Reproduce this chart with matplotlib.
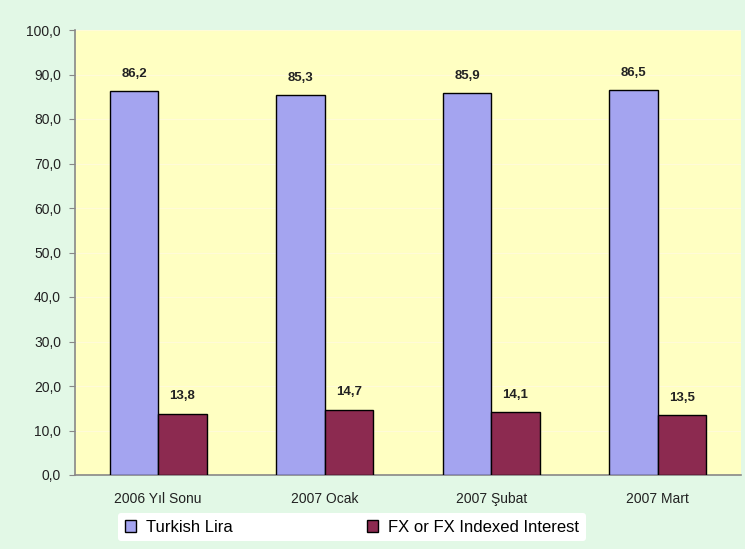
import matplotlib
matplotlib.use("Agg")
import matplotlib.pyplot as plt
import numpy as np

plt.rcParams["font.family"] = ["Liberation Sans", "DejaVu Sans"]

categories = ["2006 Yıl Sonu", "2007 Ocak", "2007 Şubat", "2007 Mart"]
turkish_lira = [86.2, 85.3, 85.9, 86.5]
fx_indexed = [13.8, 14.7, 14.1, 13.5]
series_names = ["Turkish Lira", "FX or FX Indexed Interest"]
yticks = [0, 10, 20, 30, 40, 50, 60, 70, 80, 90, 100]


def fmt(v):
    return f"{v:.1f}".replace(".", ",")


fig = plt.figure(figsize=(7.45, 5.49), dpi=100)
fig.patch.set_facecolor("#e2f8e6")
ax = fig.add_axes([75 / 745, 1 - 475 / 549, 666 / 745, 445 / 549])
ax.set_facecolor("#ffffc2")

x = np.arange(len(categories))
w = 0.29
b1 = ax.bar(x - w / 2, turkish_lira, w, color="#a4a4f0", edgecolor="black",
            linewidth=1.0, label=series_names[0], zorder=3)
b2 = ax.bar(x + w / 2, fx_indexed, w, color="#8c2a50", edgecolor="black",
            linewidth=1.0, label=series_names[1], zorder=3)

for bars, vals in ((b1, turkish_lira), (b2, fx_indexed)):
    for r, v in zip(bars, vals):
        ax.text(r.get_x() + r.get_width() / 2, v + 2.5, fmt(v), ha="center",
                va="bottom", fontsize=9.5, fontweight="bold", color="#222222")

ax.set_xlim(-0.5, len(categories) - 0.5)
ax.set_ylim(0, 100)
ax.set_yticks(yticks)
ax.set_yticklabels([fmt(v) for v in yticks], fontsize=10, color="#222222")
ax.set_xticks(x)
ax.set_xticklabels(categories, fontsize=10, color="#222222")
ax.tick_params(axis="x", length=0, pad=12)
ax.tick_params(axis="y", length=4, color="#888888", pad=6)
ax.grid(axis="y", color="#fffbd8", linewidth=0.8, zorder=0)

for side in ("top", "right"):
    ax.spines[side].set_visible(False)
for side in ("left", "bottom"):
    ax.spines[side].set_color("#888888")
    ax.spines[side].set_linewidth(1.2)

leg = fig.legend(handles=[b1, b2], loc="center", bbox_to_anchor=(352 / 745, 1 - 527 / 549),
                 ncol=2, frameon=True, fontsize=12, handlelength=0.7, handleheight=0.7,
                 columnspacing=8, handletextpad=0.6, borderaxespad=0)
leg.get_frame().set_facecolor("white")
leg.get_frame().set_edgecolor("none")
leg.get_frame().set_alpha(1)

fig.savefig("out.png", dpi=100, facecolor=fig.get_facecolor())
